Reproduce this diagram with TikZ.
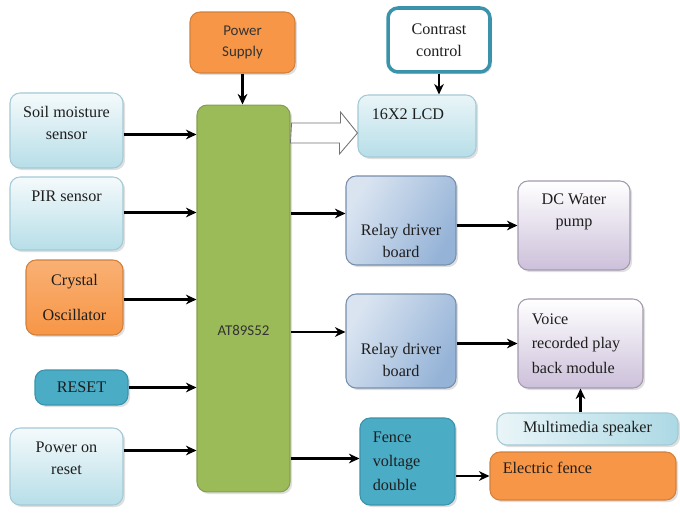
\documentclass[tikz,border=0pt]{standalone}
\usepackage{fontspec}
\setmainfont{Liberation Serif}
\newfontfamily\timesfont{Liberation Serif}
\newfontfamily\calibri{Carlito}
\usetikzlibrary{arrows.meta,calc,shadows}
\definecolor{Sky}{HTML}{B7DEE8}
\definecolor{SkyLine}{HTML}{A3CAD6}
\definecolor{Orange}{HTML}{F79646}
\definecolor{Leaf}{HTML}{9BBB59}
\definecolor{Aqua}{HTML}{4BACC6}
\definecolor{AquaDark}{HTML}{3B93AB}
\definecolor{Steel}{HTML}{95B3D7}
\definecolor{Lilac}{HTML}{CCC0DA}
\definecolor{Ink}{HTML}{1E1E1E}

\begin{document}
\begin{tikzpicture}[x=0.02cm,y=-0.02cm,
    box/.style={rounded corners=0.2cm, line width=0.6pt, inner sep=0pt,
      drop shadow={shadow xshift=1.2pt,shadow yshift=-1.2pt,opacity=0.25}},
    sky/.style={box, draw=SkyLine, top color=white!85!Sky, bottom color=Sky},
    orng/.style={box, draw=Orange!85!black, fill=Orange},
    xtalbox/.style={box, draw=Orange!85!black, top color=Orange!75, bottom color=Orange},
    aqua/.style={box, draw=AquaDark, fill=Aqua},
    mcubox/.style={box, draw=Leaf!85!black, fill=Leaf},
    ccbox/.style={box, draw=AquaDark, line width=2pt, fill=white},
    lcdbox/.style={box, draw=SkyLine, top color=white!70!Sky, bottom color=Sky},
    relay/.style={box, draw=Steel!80!black, left color=Steel!35, right color=Steel, shading angle=60},
    lilac/.style={box, draw=Lilac!80!black, top color=white, bottom color=Lilac},
    spkbox/.style={box, draw=SkyLine, left color=white!70!Sky, right color=Sky!90!Aqua},
    txt/.style={font=\timesfont\fontsize{9.2}{12.5}\selectfont, text=Ink, align=center, inner sep=0pt},
    lft/.style={font=\timesfont\fontsize{9.2}{13.8}\selectfont, text=Ink, align=left, anchor=west, inner sep=0pt},
    sans/.style={font=\calibri\fontsize{8.5}{11.5}\selectfont, text=black!80, align=center, inner sep=0pt},
    arr/.style={-{Stealth[length=6pt,width=5.5pt]}, line width=1.2pt},
    bus/.style={draw=black!55, fill=white, line width=0.5pt}]

  \useasboundingbox (0,0) rectangle (680,513);

  \node[orng, minimum width=2.1cm, minimum height=1.22cm,
    label={[sans]center:Power\\Supply}] (pwr) at (242.5,42.5) {};
  \node[sky, minimum width=2.26cm, minimum height=1.5cm,
    label={[txt,yshift=0.15cm]center:Soil moisture\\sensor}] (soil) at (66.5,130.5) {};
  \node[sky, minimum width=2.26cm, minimum height=1.46cm,
    label={[txt,yshift=0.35cm]center:PIR sensor}] (pir) at (66.5,213.5) {};
  \node[xtalbox, minimum width=1.94cm, minimum height=1.5cm,
    label={[txt]center:Crystal\\[7pt]Oscillator}] (xtal) at (74.5,297.5) {};
  \node[aqua, minimum width=1.86cm, minimum height=0.7cm,
    label={[txt]center:RESET}] (rst) at (81.5,387.5) {};
  \node[sky, minimum width=2.26cm, minimum height=1.54cm,
    label={[txt,yshift=0.16cm]center:Power on\\reset}] (por) at (66.5,466.5) {};
  \node[mcubox, minimum width=1.86cm, minimum height=7.74cm,
    label={[sans,yshift=-0.63cm]center:AT89S52}] (mcu) at (243.5,298.5) {};

  \node[ccbox, minimum width=2.04cm, minimum height=1.28cm,
    label={[txt]center:Contrast\\control}] (cc) at (439,40) {};
  \node[lcdbox, minimum width=2.36cm, minimum height=1.24cm,
    label={[lft,xshift=0.28cm,yshift=0.24cm]west:16X2 LCD}] (lcd) at (417,126) {};
  \node[relay, minimum width=2.2cm, minimum height=1.78cm,
    label={[txt,yshift=-0.4cm]center:Relay driver\\board}] (rl1) at (401,220.5) {};
  \node[lilac, minimum width=2.24cm, minimum height=1.78cm,
    label={[txt,yshift=0.27cm]center:DC Water\\pump}] (dc) at (574,225.5) {};
  \node[relay, minimum width=2.2cm, minimum height=1.88cm,
    label={[txt,yshift=-0.38cm]center:Relay driver\\board}] (rl2) at (401,341) {};
  \node[lilac, minimum width=2.5cm, minimum height=1.78cm,
    label={[lft,xshift=0.28cm]west:Voice\\recorded play\\back module}] (voice) at (580.5,343.5) {};
  \node[spkbox, minimum width=3.62cm, minimum height=0.64cm,
    label={[txt]center:Multimedia speaker}] (spk) at (587.5,429) {};
  \node[aqua, minimum width=1.9cm, minimum height=1.74cm,
    label={[lft,xshift=0.26cm]west:Fence\\voltage\\double}] (fence) at (407.5,461.5) {};
  \node[orng, minimum width=3.72cm, minimum height=0.96cm,
    label={[lft,xshift=0.26cm,yshift=0.16cm]west:Electric fence}] (ef) at (583,476) {};

  \draw[arr] (pwr.south) -- (pwr.south |- mcu.north);
  \foreach \n/\d in {soil/4,pir/-1,xtal/2,rst/0,por/-16}
    \draw[arr] ($(\n.east)+(0,\d)$) -- ($(\n.east -| mcu.west)+(0,\d)$);
  \foreach \n/\d in {rl1/-7,rl2/-9,fence/-3}
    \draw[arr] ($(\n.west -| mcu.east)+(0,\d)$) -- ($(\n.west)+(0,\d)$);
  \draw[arr] (rl1.east |- dc.west) -- (dc.west);
  \draw[arr] (rl2.east |- voice.west) -- (voice.west);
  \draw[arr] (fence.east |- ef.west) -- (ef.west);
  \draw[arr] (cc.south) -- (cc.south |- lcd.north);
  \draw[arr] (voice.south |- spk.north) -- (voice.south);

  \draw[bus] ($(mcu.east |- lcd.west)+(1,-3)$) -- ++(49,0) -- ++(0,-11)
    -- ($(lcd.west)+(0,7)$) -- ++(-18,21) -- ++(0,-11) -- ++(-49,0) -- cycle;
\end{tikzpicture}
\end{document}
